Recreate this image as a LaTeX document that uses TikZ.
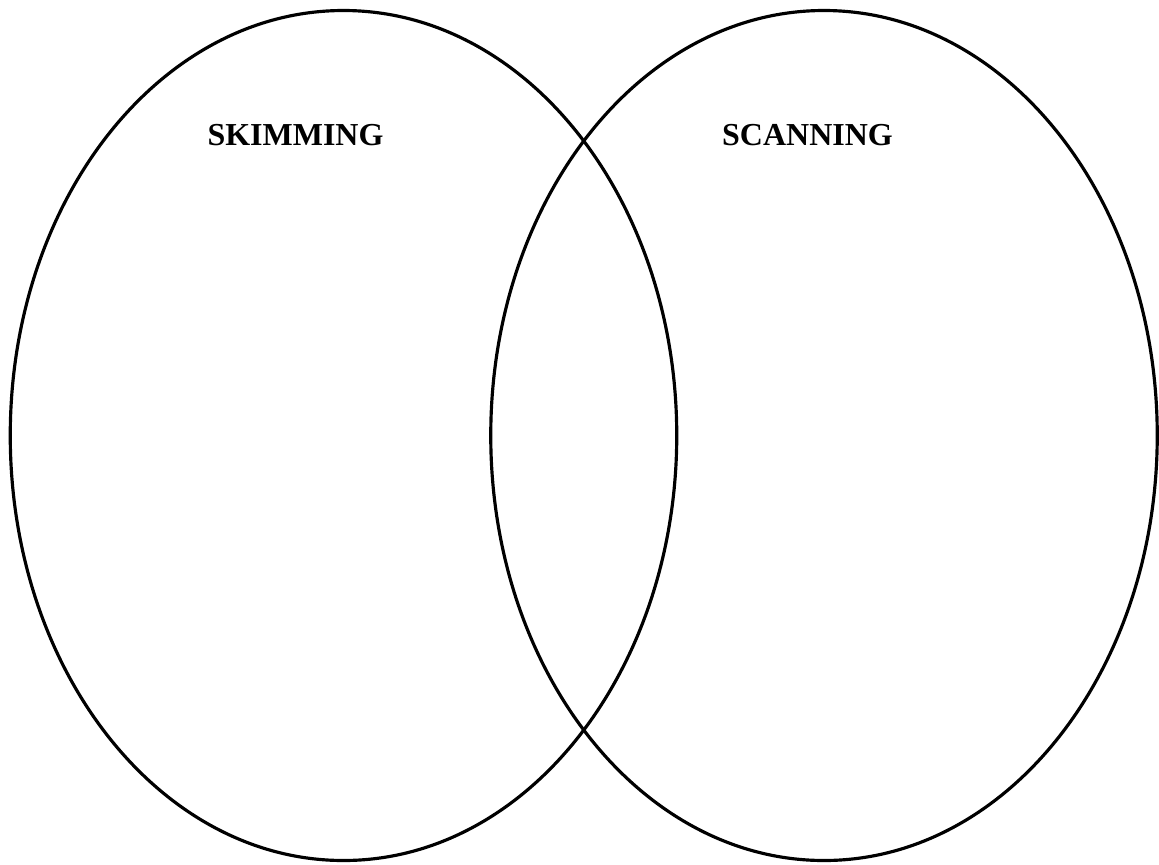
\documentclass[tikz,border=0pt]{standalone}
\usepackage{fontspec}
\setmainfont{Liberation Serif}
\usepackage{tikz}
\usetikzlibrary{shapes.geometric, positioning}

\begin{document}
\begin{tikzpicture}[
    setbox/.style={draw, ellipse, line width=1.8pt, inner sep=0pt,
        minimum width=13.33cm, minimum height=17.0cm},
    setlabel/.style={font=\fontsize{18.2}{21}\selectfont\bfseries, inner sep=0pt}
]
    \useasboundingbox (0,0) rectangle (23.18,-17.28);
    \node[setbox] (skim) at (6.87,-8.71) {};
    \node[setbox] (scan) at (16.48,-8.71) {};

    \node[setlabel] (skimlabel) at (5.91,-2.71) {SKIMMING};
    \node[setlabel] (scanlabel) at (16.15,-2.71) {SCANNING};
\end{tikzpicture}
\end{document}
